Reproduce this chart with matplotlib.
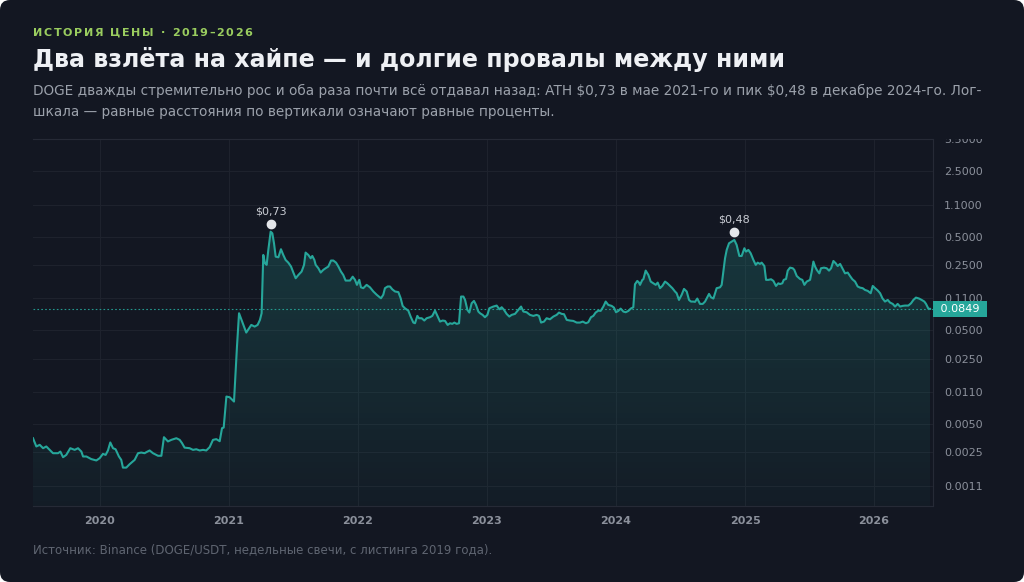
import numpy as np
import matplotlib.pyplot as plt
from matplotlib.patches import FancyBboxPatch
from matplotlib.colors import LinearSegmentedColormap
from matplotlib.font_manager import FontProperties
from matplotlib.transforms import (offset_copy, IdentityTransform, blended_transform_factory,
                                   Bbox, TransformedBbox)

plt.rcParams['font.family'] = ['DejaVu Sans']

# weekly closes DOGE/USDT, time as decimal year
t = [2019.481, 2019.507, 2019.533, 2019.559, 2019.584, 2019.610, 2019.636, 2019.675, 2019.693, 2019.714,
     2019.739, 2019.770, 2019.804, 2019.830, 2019.856, 2019.869, 2019.895, 2019.933, 2019.972, 2019.998,
     2020.023, 2020.044, 2020.062, 2020.080, 2020.101, 2020.121, 2020.147, 2020.165, 2020.178, 2020.204,
     2020.230, 2020.269, 2020.295, 2020.320, 2020.346, 2020.359, 2020.385, 2020.411, 2020.450, 2020.476,
     2020.496, 2020.527, 2020.553, 2020.592, 2020.618, 2020.636, 2020.656, 2020.695, 2020.721, 2020.747,
     2020.773, 2020.799, 2020.824, 2020.850, 2020.876, 2020.902, 2020.928, 2020.946, 2020.959, 2020.980,
     2021.005, 2021.039, 2021.062, 2021.078, 2021.109, 2021.134, 2021.173, 2021.199,
     2021.222, 2021.240, 2021.253, 2021.266, 2021.279, 2021.292, 2021.305, 2021.323, 2021.336, 2021.349,
     2021.362, 2021.383, 2021.403, 2021.421, 2021.439, 2021.460, 2021.481, 2021.499, 2021.517, 2021.538,
     2021.563, 2021.582, 2021.594, 2021.615, 2021.633, 2021.646, 2021.662, 2021.672, 2021.693, 2021.711,
     2021.731, 2021.749, 2021.770, 2021.791, 2021.809, 2021.830, 2021.848, 2021.868, 2021.886, 2021.904,
     2021.938, 2021.959, 2021.977, 2021.992, 2022.010, 2022.023, 2022.041, 2022.067, 2022.093, 2022.119,
     2022.145, 2022.178, 2022.196, 2022.209, 2022.230, 2022.248, 2022.266, 2022.287, 2022.313, 2022.331,
     2022.346, 2022.364, 2022.390, 2022.408, 2022.429, 2022.442, 2022.460, 2022.473, 2022.494, 2022.514,
     2022.532, 2022.558, 2022.576, 2022.597, 2022.618, 2022.636, 2022.656, 2022.675, 2022.695, 2022.713,
     2022.731, 2022.747, 2022.765, 2022.783, 2022.799, 2022.817, 2022.830, 2022.848, 2022.863, 2022.881,
     2022.899, 2022.915, 2022.933,
     2022.946, 2022.966, 2022.984, 2023.003, 2023.018, 2023.049, 2023.075, 2023.096, 2023.114, 2023.132,
     2023.152, 2023.173, 2023.191, 2023.217, 2023.243, 2023.264, 2023.282, 2023.307, 2023.333, 2023.359,
     2023.385, 2023.403, 2023.419, 2023.442, 2023.462, 2023.488, 2023.514, 2023.540, 2023.558, 2023.579,
     2023.597, 2023.618, 2023.643, 2023.669, 2023.695, 2023.721, 2023.742, 2023.767, 2023.785, 2023.806,
     2023.824, 2023.842, 2023.863, 2023.881, 2023.902, 2023.920, 2023.940, 2023.966, 2023.984, 2024.000,
     2024.018, 2024.036, 2024.057, 2024.075, 2024.096, 2024.114, 2024.134, 2024.147, 2024.165, 2024.178,
     2024.186, 2024.204, 2024.212, 2024.230, 2024.251, 2024.269, 2024.290, 2024.308, 2024.323, 2024.341,
     2024.359, 2024.380, 2024.398, 2024.419, 2024.437, 2024.457, 2024.470, 2024.488, 2024.509, 2024.527,
     2024.548, 2024.566, 2024.581, 2024.599, 2024.612, 2024.630, 2024.651, 2024.672, 2024.690,
     2024.703, 2024.721, 2024.736, 2024.755, 2024.780, 2024.806, 2024.819, 2024.832, 2024.845, 2024.858,
     2024.876, 2024.897, 2024.917, 2024.935, 2024.956, 2024.974, 2024.995, 2025.008, 2025.026, 2025.044,
     2025.065, 2025.083, 2025.098, 2025.116, 2025.129, 2025.150, 2025.163, 2025.181, 2025.202, 2025.220,
     2025.240, 2025.258, 2025.271, 2025.289, 2025.300, 2025.318, 2025.331, 2025.349, 2025.370, 2025.382,
     2025.401, 2025.426, 2025.444, 2025.460, 2025.478, 2025.504, 2025.517, 2025.530, 2025.543, 2025.556,
     2025.576, 2025.589, 2025.612, 2025.633, 2025.651, 2025.667, 2025.685, 2025.703, 2025.718, 2025.737,
     2025.757, 2025.775, 2025.796, 2025.814, 2025.832, 2025.853, 2025.873, 2025.891, 2025.912, 2025.930,
     2025.951, 2025.974, 2025.990, 2026.008, 2026.029, 2026.047, 2026.065, 2026.085, 2026.106, 2026.124,
     2026.145, 2026.163, 2026.183, 2026.202, 2026.222, 2026.240, 2026.266, 2026.287, 2026.305, 2026.325,
     2026.349, 2026.369, 2026.390, 2026.403, 2026.421, 2026.434]

close = [0.00354, 0.00289, 0.00301, 0.00277, 0.00289, 0.00266, 0.00245, 0.00245, 0.00255, 0.00222,
         0.00235, 0.00277, 0.00266, 0.00277, 0.00255, 0.00226, 0.00226, 0.00212, 0.00205, 0.00217,
         0.00241, 0.00235, 0.00262, 0.00319, 0.00277, 0.00270, 0.00226, 0.00208, 0.00172, 0.00172,
         0.00187, 0.00208, 0.00245, 0.00249, 0.00245, 0.00251, 0.00262, 0.00245, 0.00230, 0.00230,
         0.00363, 0.00327, 0.00340, 0.00354, 0.00340, 0.00314, 0.00281, 0.00277, 0.00266, 0.00270,
         0.00262, 0.00266, 0.00262, 0.00284, 0.00340, 0.00346, 0.00329, 0.00453, 0.00460, 0.00985,
         0.00969, 0.00871, 0.0336, 0.0762, 0.0587, 0.0474, 0.0572, 0.0549,
         0.0572, 0.0647, 0.0762, 0.319, 0.260, 0.250, 0.361, 0.565, 0.543, 0.425,
         0.306, 0.301, 0.367, 0.319, 0.282, 0.264, 0.240, 0.207, 0.180, 0.195,
         0.212, 0.250, 0.338, 0.319, 0.294, 0.311, 0.282, 0.250, 0.230, 0.207,
         0.221, 0.230, 0.240, 0.278, 0.278, 0.264, 0.240, 0.212, 0.195, 0.170,
         0.170, 0.187, 0.173, 0.153, 0.173, 0.144, 0.141, 0.153, 0.144, 0.130,
         0.120, 0.110, 0.120, 0.141, 0.147, 0.147, 0.137, 0.130, 0.128, 0.110,
         0.0913, 0.0861, 0.0813, 0.0702, 0.0606, 0.0596, 0.0714, 0.0674, 0.0674, 0.0637,
         0.0674, 0.0691, 0.0714, 0.0813, 0.0702, 0.0621, 0.0637, 0.0631, 0.0572, 0.0596,
         0.0587, 0.0606, 0.0587, 0.0596, 0.1148, 0.1148, 0.1057, 0.0827, 0.0775, 0.0974,
         0.1031, 0.0935, 0.0794,
         0.0762, 0.0732, 0.0691, 0.0732, 0.0861, 0.0898, 0.0920, 0.0840, 0.0883, 0.0827,
         0.0750, 0.0702, 0.0732, 0.0750, 0.0827, 0.0898, 0.0794, 0.0781, 0.0732, 0.0714,
         0.0732, 0.0714, 0.0606, 0.0621, 0.0674, 0.0657, 0.0702, 0.0732, 0.0775, 0.0750,
         0.0744, 0.0647, 0.0637, 0.0631, 0.0606, 0.0606, 0.0621, 0.0596, 0.0611, 0.0691,
         0.0714, 0.0775, 0.0813, 0.0807, 0.0898, 0.1015, 0.0935, 0.0913, 0.0876, 0.0781,
         0.0807, 0.0854, 0.0794, 0.0781, 0.0807, 0.0854, 0.0883, 0.1553, 0.1685, 0.1617,
         0.153, 0.173, 0.1755, 0.2172, 0.195, 0.1658, 0.159, 0.153, 0.1617, 0.141,
         0.149, 0.1658, 0.159, 0.149, 0.141, 0.130, 0.1246, 0.1057, 0.120, 0.1385,
         0.130, 0.1057, 0.1015, 0.1015, 0.1007, 0.1093, 0.0958, 0.0958, 0.1015,
         0.110, 0.1225, 0.1128, 0.1093, 0.141, 0.144, 0.153, 0.212, 0.294, 0.361,
         0.425, 0.443, 0.461, 0.408, 0.311, 0.311, 0.376, 0.346, 0.361, 0.332,
         0.282, 0.250, 0.264, 0.256, 0.264, 0.243, 0.173, 0.173, 0.1755, 0.1685,
         0.149, 0.159, 0.156, 0.159, 0.173, 0.177, 0.217, 0.2336, 0.230, 0.221,
         0.190, 0.177, 0.173, 0.153, 0.1658, 0.173, 0.212, 0.271, 0.240, 0.221,
         0.203, 0.230, 0.2336, 0.230, 0.217, 0.230, 0.275, 0.260, 0.243, 0.256,
         0.226, 0.203, 0.207, 0.190, 0.1755, 0.1658, 0.147, 0.143, 0.141, 0.135,
         0.132, 0.1246, 0.149, 0.141, 0.133, 0.1246, 0.110, 0.1015, 0.1057, 0.0990,
         0.0958, 0.0898, 0.0958, 0.0898, 0.0913, 0.0920, 0.0920, 0.0974, 0.1057, 0.1119,
         0.1093, 0.1057, 0.1015, 0.0958, 0.0854, 0.0849]

y_ticks = [5.5, 2.5, 1.1, 0.5, 0.25, 0.11, 0.05, 0.025, 0.011, 0.005, 0.0025, 0.0011]
x_ticks = [2020, 2021, 2022, 2023, 2024, 2025, 2026]
peak_labels = [r'\$0,73', r'\$0,48']

bg = '#131722'
teal = '#26a69a'
grid_c = '#1e222d'
tick_c = '#8b909b'

t = np.array(t)
close = np.array(close)

fig = plt.figure(figsize=(10.24, 5.82), dpi=100)
fig.patch.set_facecolor('white')
card = FancyBboxPatch((0, 0), 1024, 582, boxstyle='round,pad=0,rounding_size=10',
                      transform=IdentityTransform(), facecolor=bg, edgecolor='none', zorder=-10)
fig.patches.append(card)

ax = fig.add_axes([33/1024, 1-506/582, 900/1024, 367/582])
ax.set_facecolor(bg)
ax.set_yscale('log')
y_lo, y_hi = 0.00067, 5.5
x_lo, x_hi = 2019.481, 2026.457

# gradient area under the line
poly = ax.fill_between(t, close, y_lo, facecolor='none', edgecolor='none')
cmap = LinearSegmentedColormap.from_list('g', [(0.15, 0.65, 0.6, 0.04), (0.15, 0.65, 0.6, 0.30)])
grad = np.linspace(0, 1, 256).reshape(-1, 1)
im = ax.imshow(grad, extent=[0, 1, 0, 1], transform=ax.transAxes, origin='lower',
               aspect='auto', cmap=cmap, zorder=1)
im.set_clip_path(poly.get_paths()[0], transform=ax.transData)

ax.plot(t, close, color=teal, lw=1.5, zorder=3, solid_joinstyle='round')

# current price
last = close[-1]
ax.axhline(last, color=teal, lw=0.8, ls=(0, (1.5, 2)), alpha=0.9, zorder=2)
tr = blended_transform_factory(ax.transAxes, ax.transData)
ax.annotate('\u2009\u2009' + f'{last:.4f}' + '\u2009\u2009', (1.0, last), xycoords=tr,
            xytext=(3, 0), textcoords='offset pixels',
            ha='left', va='center', color='white', fontsize=8, zorder=6, annotation_clip=False,
            bbox=dict(boxstyle='square,pad=0.3', fc=teal, ec='none'))

# peaks
for mask, lab in zip([t < 2022, t > 2024.5], peak_labels):
    idx = np.where(mask)[0][np.argmax(close[mask])]
    ax.plot(t[idx], close[idx], 'o', ms=6, color='#e4e6ea', zorder=5,
            transform=offset_copy(ax.transData, fig=fig, y=8, units='dots'))
    ax.annotate(lab, (t[idx], close[idx]), xytext=(0, 15),
                textcoords='offset pixels', ha='center', va='bottom', fontsize=8, color='#c9ccd3')

ax.set_xlim(x_lo, x_hi)
ax.set_ylim(y_lo, y_hi)
ax.yaxis.tick_right()
ax.set_yticks(y_ticks)
ax.set_yticklabels([f'{v:.4f}' for v in y_ticks])
ax.yaxis.set_minor_locator(plt.NullLocator())
ax.set_xticks(x_ticks)
ax.set_xticklabels([str(y) for y in x_ticks], fontweight='bold')
ax.tick_params(axis='y', length=0, pad=8, labelcolor=tick_c, labelsize=8)
ax.tick_params(axis='x', length=0, pad=7, labelcolor=tick_c, labelsize=8)
ax.grid(color=grid_c, lw=0.8)
ax.set_axisbelow(True)
ax.spines['left'].set_visible(False)
for s in ['top', 'right', 'bottom']:
    ax.spines[s].set_color('#262a36')
    ax.spines[s].set_linewidth(0.8)

# labels above the plot top are cut off, like in the panel
clip = TransformedBbox(Bbox([[0, -0.2], [1.2, 1.0]]), ax.transAxes)
for lbl in ax.get_yticklabels():
    lbl.set_clip_box(clip)
    lbl.set_clip_on(True)

x0 = 33/1024

# kicker with letter spacing
kick = 'ИСТОРИЯ ЦЕНЫ · 2019–2026'
kprop = FontProperties(family='DejaVu Sans', weight='bold', size=8)
r = fig.canvas.get_renderer()
def W(s):
    return r.get_text_width_height_descent(s, kprop, ismath=False)[0]
pos = [W(kick[:i] + 'I') - W('I') for i in range(len(kick))]
gap = (219 - W(kick)) / (len(kick) - 1)
for i, ch in enumerate(kick):
    if ch == ' ':
        continue
    fig.text((33 + pos[i] + i * gap) / 1024, 1 - 33/582, ch, va='center',
             fontproperties=kprop, color='#9acd5f')

fig.text(x0, 1-60/582, 'Два взлёта на хайпе — и долгие провалы между ними', va='center',
         fontsize=17.1, fontweight='bold', color='#eef0f4')
fig.text(x0, 1-91/582, r'DOGE дважды стремительно рос и оба раза почти всё отдавал назад: '
         r'ATH \$0,73 в мае 2021-го и пик \$0,48 в декабре 2024-го. Лог-',
         va='center', fontsize=9.85, color='#9ba1ab')
fig.text(x0, 1-112/582, 'шкала — равные расстояния по вертикали означают равные проценты.',
         va='center', fontsize=9.85, color='#9ba1ab')
fig.text(x0, 1-550/582, 'Источник: Binance (DOGE/USDT, недельные свечи, с листинга 2019 года).',
         va='center', fontsize=8.5, color='#5f6571')

fig.savefig('out.png', dpi=100, facecolor=fig.get_facecolor())
